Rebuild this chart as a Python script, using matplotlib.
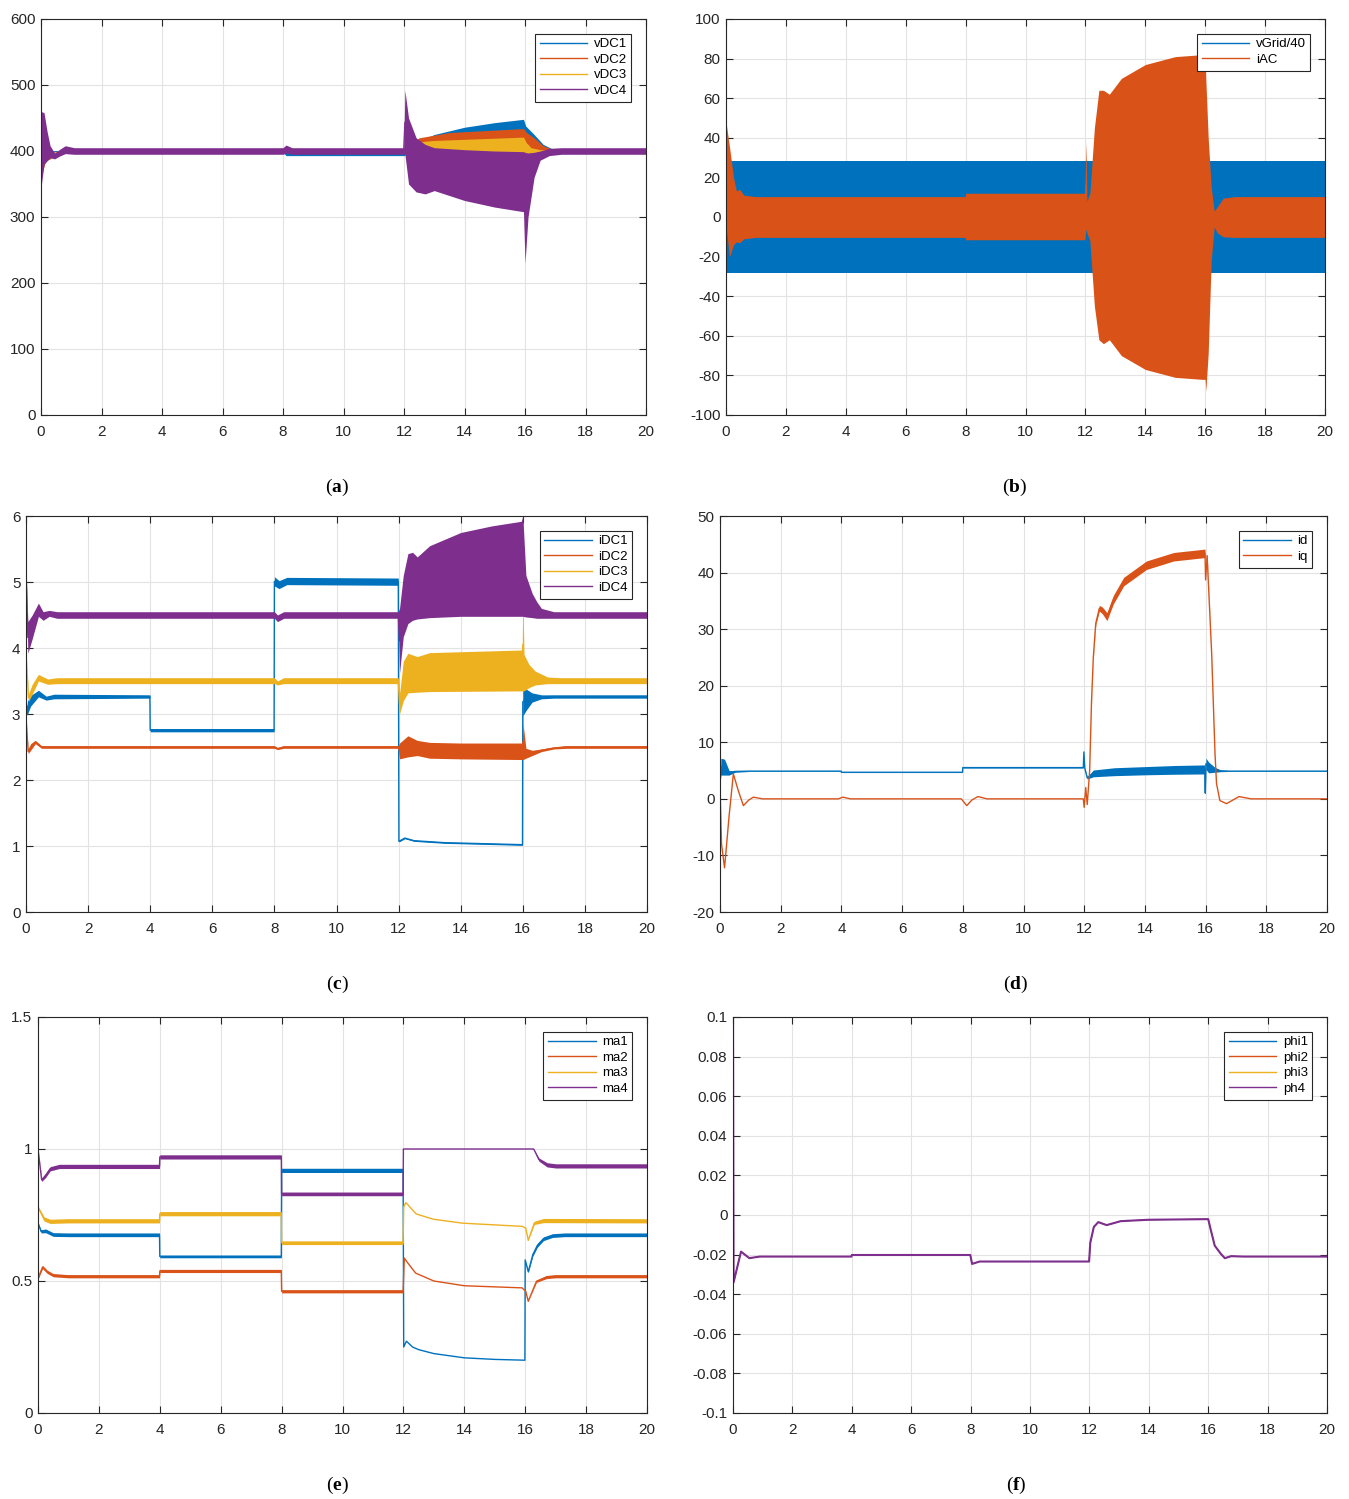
import numpy as np
import matplotlib.pyplot as plt
from matplotlib.ticker import FuncFormatter

plt.rcParams['font.family'] = ['Liberation Sans', 'DejaVu Sans']
plt.rcParams['axes.unicode_minus'] = False
plt.rcParams['mathtext.fontset'] = 'custom'
plt.rcParams['mathtext.rm'] = 'Liberation Serif'
plt.rcParams['mathtext.bf'] = 'Liberation Serif:bold'

# MATLAB default line colours
C1, C2, C3, C4 = '#0072BD', '#D95319', '#EDB120', '#7E2F8E'

# ---- (a) DC link voltages: time, lower / upper envelope of the ripple band
vdc1_t = [0, 0.3, 1.0, 8.0, 8.1, 12.0, 12.2, 12.5, 13.0, 14.0, 15.0, 15.95, 16.02, 16.3, 16.6, 17.0, 20]
vdc1_hi = [380, 400, 402, 402, 403, 403, 406, 415, 425, 436, 443, 448, 438, 425, 410, 401, 401]
vdc1_lo = [380, 395, 398, 398, 393, 393, 398, 398, 398, 398, 398, 398, 398, 398, 398, 398, 398]

vdc2_t = [0, 0.15, 0.3, 0.6, 1.0, 12.0, 12.2, 12.5, 13.5, 15.95, 16.05, 16.3, 16.6, 17.0, 20]
vdc2_hi = [360, 400, 392, 398, 401, 401, 410, 420, 428, 434, 428, 420, 408, 401, 401]
vdc2_lo = [360, 385, 388, 396, 398, 398, 398, 398, 398, 398, 398, 398, 398, 398, 398]

vdc3_t = [0, 0.15, 0.3, 0.6, 1.0, 12.0, 12.2, 12.5, 13.0, 15.95, 16.05, 16.1, 16.2, 16.5, 17.0, 20]
vdc3_hi = [360, 410, 398, 400, 401, 401, 408, 414, 416, 421, 412, 410, 405, 402, 401, 401]
vdc3_lo = [360, 395, 390, 396, 398, 398, 398, 398, 398, 398, 385, 380, 392, 396, 398, 398]

vdc4_t = [0, 0.1, 0.2, 0.3, 0.45, 0.6, 0.8, 1.1, 8.0, 8.1, 8.3, 11.99, 12.03, 12.15, 12.4, 12.7,
          13.0, 14.0, 15.0, 15.95, 16.0, 16.1, 16.3, 16.5, 16.8, 17.2, 20]
vdc4_hi = [460, 458, 430, 408, 397, 402, 408, 405, 405, 409, 405, 405, 492, 450, 420, 410,
           405, 402, 400, 399, 398, 397, 398, 400, 404, 405, 405]
vdc4_lo = [345, 380, 385, 390, 388, 392, 396, 395, 395, 397, 395, 395, 395, 350, 338, 335,
           340, 325, 315, 308, 230, 300, 360, 386, 393, 395, 395]

# ---- (b) grid voltage / 40 and AC current envelopes
vgrid_t = [0, 20]
vgrid_amp = [28.5, 28.5]

iac_t = [0, 0.12, 0.25, 0.35, 0.45, 0.6, 1.0, 7.99, 8.0, 11.98, 12.02, 12.05, 12.15, 12.3, 12.45,
         12.6, 12.8, 13.2, 14.0, 15.0, 15.9, 16.0, 16.02, 16.1, 16.2, 16.3, 16.4, 16.6, 17.0, 20]
iac_hi = [48, 35, 20, 13, 14, 11, 10.3, 10.3, 12, 12, 38, 8, 12, 45, 64,
          64, 62, 70, 77, 81, 82, 80, 70, 40, 15, 3, 5, 9.5, 10.3, 10.3]
iac_lo = [-5, -20, -14, -12.5, -13, -11, -10.3, -10.3, -11.5, -11.5, -6, -8, -12, -45, -62,
          -64, -62, -70, -77, -81, -82, -82, -88, -69, -22, -5, -8, -10, -10.3, -10.3]

# ---- (c) DC currents
idc1_t = [0, 0.05, 0.15, 0.4, 0.65, 0.9, 3.99, 4.0, 7.99, 8.0, 8.15, 8.4, 11.99, 12.01, 12.2, 12.5,
          13.5, 15.99, 16.0, 16.1, 16.3, 16.6, 17.0, 20]
idc1_hi = [3.02, 3.2, 3.28, 3.36, 3.27, 3.3, 3.29, 2.78, 2.78, 5.08, 5.02, 5.07, 5.06, 1.08, 1.13, 1.09,
           1.06, 1.03, 3.4, 3.38, 3.32, 3.29, 3.29, 3.29]
idc1_lo = [2.98, 3.0, 3.12, 3.26, 3.21, 3.23, 3.24, 2.73, 2.73, 4.94, 4.9, 4.96, 4.95, 1.06, 1.11, 1.07,
           1.04, 1.01, 2.97, 3.05, 3.18, 3.23, 3.24, 3.24]

idc2_t = [0, 0.07, 0.15, 0.3, 0.5, 0.8, 8.0, 8.1, 8.3, 11.99, 12.03, 12.3, 12.6, 13.0, 14.0, 15.98,
          16.01, 16.1, 16.3, 16.6, 17.0, 17.4, 20]
idc2_hi = [2.95, 2.46, 2.55, 2.6, 2.52, 2.52, 2.52, 2.49, 2.52, 2.52, 2.56, 2.67, 2.6, 2.57, 2.56, 2.56,
           2.85, 2.48, 2.45, 2.47, 2.5, 2.52, 2.52]
idc2_lo = [2.95, 2.4, 2.45, 2.55, 2.48, 2.48, 2.48, 2.46, 2.48, 2.48, 2.32, 2.35, 2.37, 2.33, 2.32, 2.31,
           2.31, 2.33, 2.37, 2.43, 2.47, 2.48, 2.48]

idc3_t = [0, 0.08, 0.2, 0.4, 0.7, 1.0, 8.0, 8.1, 8.3, 11.99, 12.03, 12.15, 12.3, 12.6, 13.0, 15.98,
          16.0, 16.04, 16.2, 16.4, 16.8, 17.2, 20]
idc3_hi = [3.92, 3.3, 3.45, 3.6, 3.53, 3.55, 3.55, 3.5, 3.55, 3.55, 3.3, 3.8, 3.92, 3.87, 3.93, 3.97,
           4.75, 3.9, 3.75, 3.65, 3.56, 3.55, 3.55]
idc3_lo = [3.92, 3.19, 3.3, 3.5, 3.45, 3.46, 3.46, 3.44, 3.46, 3.46, 3.0, 3.2, 3.32, 3.33, 3.34, 3.35,
           3.35, 3.35, 3.4, 3.44, 3.46, 3.46, 3.46]

idc4_t = [0, 0.06, 0.2, 0.4, 0.55, 0.75, 1.0, 8.0, 8.1, 8.3, 11.99, 12.03, 12.15, 12.3, 12.45, 12.6,
          13.0, 14.0, 15.0, 15.95, 16.0, 16.1, 16.3, 16.45, 16.6, 17.0, 20]
idc4_hi = [5.2, 4.4, 4.5, 4.68, 4.55, 4.57, 4.55, 4.55, 4.5, 4.55, 4.55, 4.6, 5.1, 5.43, 5.45, 5.38,
           5.55, 5.75, 5.85, 5.92, 6.0, 5.1, 4.83, 4.7, 4.6, 4.55, 4.55]
idc4_lo = [5.2, 3.92, 4.14, 4.48, 4.42, 4.48, 4.45, 4.45, 4.4, 4.45, 4.45, 3.62, 4.17, 4.37, 4.42, 4.44,
           4.46, 4.48, 4.48, 4.48, 4.48, 4.47, 4.46, 4.45, 4.45, 4.45, 4.45]

# ---- (d) dq currents
id_t = [0, 0.03, 0.15, 0.3, 0.5, 1.0, 3.99, 4.0, 7.99, 8.0, 11.97, 11.99, 12.02, 12.1, 12.3, 13.0,
        14.0, 15.0, 15.97, 15.99, 16.01, 16.1, 16.3, 16.5, 16.8, 20]
id_hi = [2.5, 7.2, 7.0, 5.0, 5.0, 4.95, 4.95, 4.75, 4.75, 5.6, 5.6, 8.3, 5.5, 3.9, 5.1, 5.5,
         5.7, 5.9, 6.0, 1.0, 7.2, 6.5, 5.6, 5.1, 4.95, 4.95]
id_lo = [2.5, 4.2, 4.2, 4.2, 4.7, 4.85, 4.85, 4.65, 4.65, 5.45, 5.45, 8.3, 5.3, 3.5, 3.9, 4.1,
         4.25, 4.35, 4.4, 1.0, 5.2, 4.6, 4.7, 4.8, 4.85, 4.85]

iq_t = [0, 0.05, 0.15, 0.3, 0.44, 0.6, 0.77, 0.95, 1.1, 1.4, 3.9, 4.05, 4.3, 7.95, 8.13, 8.3, 8.5, 8.8,
        11.97, 12.0, 12.05, 12.1, 12.18, 12.24, 12.3, 12.38, 12.5, 12.6, 12.75, 12.96, 13.3, 14.05,
        14.95, 15.98, 16.0, 16.05, 16.2, 16.31, 16.36, 16.47, 16.69, 17.1, 17.5, 20]
iq_c = [2.5, -8, -12.2, -3, 4.4, 1.5, -1.2, -0.2, 0.3, 0, 0, 0.3, 0, 0, -1.2, -0.2, 0.4, 0,
        0, -1.5, 2, -1, 5, 17, 25, 31, 33.7, 33.3, 32.2, 35.2, 38.4, 41.3,
        42.8, 43.4, 38.7, 43, 25.7, 8, 2.7, -0.3, -0.85, 0.4, 0, 0]
iq_hw = [0] * 23 + [0.1, 0.2, 0.3, 0.5, 0.6, 0.7, 0.75, 0.75, 0.75, 0.75, 0.75, 0, 0.3] + [0] * 8

# ---- (e) modulation indices: centre and half width of the ripple
ma1_t = [0, 0.1, 0.25, 0.5, 1.0, 3.99, 4.0, 7.99, 8.0, 11.99, 12.01, 12.1, 12.3, 12.5, 13.0, 14.0,
         15.0, 15.99, 16.0, 16.1, 16.25, 16.4, 16.6, 16.9, 17.3, 20]
ma1_c = [0.72, 0.688, 0.69, 0.676, 0.675, 0.675, 0.593, 0.593, 0.919, 0.919, 0.25, 0.272, 0.25, 0.24, 0.225, 0.209,
         0.203, 0.2, 0.58, 0.535, 0.6, 0.635, 0.66, 0.672, 0.675, 0.675]
ma1_hw = [0, 0.006, 0.007, 0.007, 0.007, 0.007, 0.005, 0.005, 0.008, 0.008, 0, 0, 0, 0, 0, 0,
          0, 0, 0, 0.004, 0.006, 0.007, 0.007, 0.007, 0.007, 0.007]

ma2_t = [0, 0.15, 0.3, 0.5, 1.0, 3.99, 4.0, 7.99, 8.0, 11.99, 12.03, 12.1, 12.4, 13.0, 14.0, 15.9,
         16.02, 16.1, 16.37, 16.7, 17.0, 20]
ma2_c = [0.51, 0.553, 0.535, 0.522, 0.518, 0.518, 0.538, 0.538, 0.461, 0.461, 0.587, 0.575, 0.53, 0.5, 0.482, 0.474,
         0.46, 0.423, 0.499, 0.515, 0.518, 0.518]
ma2_hw = [0.004, 0.006, 0.006, 0.006, 0.006, 0.006, 0.006, 0.006, 0.006, 0.006, 0, 0, 0, 0, 0, 0,
          0, 0, 0.004, 0.006, 0.006, 0.006]

ma3_t = [0, 0.2, 0.4, 1.0, 3.99, 4.0, 7.99, 8.0, 11.99, 12.01, 12.08, 12.42, 12.98, 13.95, 15.9,
         16.02, 16.1, 16.3, 16.6, 20]
ma3_c = [0.78, 0.735, 0.726, 0.728, 0.728, 0.755, 0.755, 0.645, 0.645, 0.78, 0.797, 0.754, 0.734, 0.719, 0.707,
         0.70, 0.654, 0.72, 0.729, 0.728]
ma3_hw = [0.004, 0.008, 0.008, 0.008, 0.008, 0.008, 0.008, 0.007, 0.007, 0, 0, 0, 0, 0, 0,
          0, 0, 0.006, 0.008, 0.008]

ma4_t = [0, 0.12, 0.25, 0.4, 0.7, 3.99, 4.0, 7.99, 8.0, 11.99, 12.0, 16.28, 16.45, 16.72, 17.0, 20]
ma4_c = [1.0, 0.883, 0.9, 0.925, 0.934, 0.934, 0.97, 0.97, 0.83, 0.83, 1.0, 1.0, 0.96, 0.94, 0.936, 0.936]
ma4_hw = [0, 0.006, 0.008, 0.008, 0.008, 0.008, 0.008, 0.008, 0.007, 0.007, 0, 0, 0.006, 0.008, 0.008, 0.008]

# ---- (f) phase shifts (all four coincide)
phi_t = [0, 0.02, 0.27, 0.55, 0.9, 3.99, 4.0, 7.99, 8.05, 8.3, 11.99, 12.03, 12.15, 12.3, 12.58,
         13.06, 14.0, 16.0, 16.08, 16.22, 16.43, 16.56, 16.77, 17.2, 20]
phi_c = [0.1, -0.034, -0.0185, -0.0218, -0.021, -0.021, -0.0202, -0.0202, -0.0247, -0.0235, -0.0235,
         -0.014, -0.006, -0.0036, -0.0051, -0.0031, -0.0024, -0.0021, -0.0071, -0.0155, -0.0197,
         -0.0218, -0.0208, -0.021, -0.021]

W, H = 1349, 1499
fig = plt.figure(figsize=(W / 100, H / 100), dpi=100)


def make_axes(l, t, r, b, ylim, yticks):
    ax = fig.add_axes([l / W, 1 - b / H, (r - l) / W, (b - t) / H])
    ax.set_xlim(0, 20)
    ax.set_xticks(range(0, 21, 2))
    ax.set_ylim(*ylim)
    ax.set_yticks(yticks)
    ax.yaxis.set_major_formatter(FuncFormatter(lambda v, p: '%g' % (round(v, 6) + 0.0)))
    ax.grid(True, color='#e3e3e3', lw=0.8)
    ax.set_axisbelow(True)
    ax.tick_params(direction='in', top=True, right=True, length=5, width=0.8,
                   labelsize=11, colors='#262626')
    ax.tick_params(axis='x', pad=7)
    ax.tick_params(axis='y', pad=4)
    for s in ax.spines.values():
        s.set_color('#262626')
        s.set_linewidth(0.8)
    return ax


def band(ax, t, lo, hi, color, label):
    # fill and centre line share one zorder, so later series cover earlier ones
    lo, hi = np.asarray(lo, float), np.asarray(hi, float)
    ax.fill_between(t, lo, hi, color=color, lw=0, zorder=2)
    ax.plot(t, (lo + hi) / 2, color=color, lw=1, label=label, zorder=2)


def legend(ax):
    leg = ax.legend(loc='upper right', fontsize=9.5, handlelength=3.6, labelspacing=0.25,
                    borderpad=0.35, borderaxespad=1.1, handletextpad=0.5,
                    fancybox=False, framealpha=1, edgecolor='#262626')
    leg.get_frame().set_linewidth(0.8)
    leg.set_zorder(5)
    for line in leg.get_lines():
        line.set_linewidth(1)


# (a)
ax = make_axes(41, 19, 646, 415, (0, 600), range(0, 601, 100))
band(ax, vdc1_t, vdc1_lo, vdc1_hi, C1, 'vDC1')
band(ax, vdc2_t, vdc2_lo, vdc2_hi, C2, 'vDC2')
band(ax, vdc3_t, vdc3_lo, vdc3_hi, C3, 'vDC3')
band(ax, vdc4_t, vdc4_lo, vdc4_hi, C4, 'vDC4')
legend(ax)

# (b)
ax = make_axes(726, 19, 1325, 415, (-100, 100), range(-100, 101, 20))
amp = np.asarray(vgrid_amp)
band(ax, vgrid_t, -amp, amp, C1, 'vGrid/40')
band(ax, iac_t, iac_lo, iac_hi, C2, 'iAC')
legend(ax)

# (c)
ax = make_axes(26, 516, 647, 912, (0, 6), range(0, 7))
band(ax, idc1_t, idc1_lo, idc1_hi, C1, 'iDC1')
band(ax, idc2_t, idc2_lo, idc2_hi, C2, 'iDC2')
band(ax, idc3_t, idc3_lo, idc3_hi, C3, 'iDC3')
band(ax, idc4_t, idc4_lo, idc4_hi, C4, 'iDC4')
legend(ax)

# (d)
ax = make_axes(720, 516, 1327, 912, (-20, 50), range(-20, 51, 10))
band(ax, id_t, id_lo, id_hi, C1, 'id')
c, hw = np.asarray(iq_c), np.asarray(iq_hw)
band(ax, iq_t, c - hw, c + hw, C2, 'iq')
legend(ax)

# (e)
ax = make_axes(38, 1017, 647, 1413, (0, 1.5), [0, 0.5, 1, 1.5])
for t, c, hw, col, lab in [(ma1_t, ma1_c, ma1_hw, C1, 'ma1'), (ma2_t, ma2_c, ma2_hw, C2, 'ma2'),
                           (ma3_t, ma3_c, ma3_hw, C3, 'ma3'), (ma4_t, ma4_c, ma4_hw, C4, 'ma4')]:
    c, hw = np.asarray(c), np.asarray(hw)
    band(ax, t, c - hw, c + hw, col, lab)
legend(ax)

# (f)
ax = make_axes(733, 1017, 1327, 1413, (-0.1, 0.1), np.linspace(-0.1, 0.1, 11))
for col, lab, w in [(C1, 'phi1', 0.6), (C2, 'phi2', 0.6), (C3, 'phi3', 0.6), (C4, 'ph4', 1.5)]:
    ax.plot(phi_t, phi_c, color=col, lw=w, label=lab)
legend(ax)

# panel captions
for x, y, s in [(337, 487, 'a'), (1015, 487, 'b'), (337, 984, 'c'),
                (1016, 984, 'd'), (337, 1485, 'e'), (1016, 1485, 'f')]:
    fig.text(x / W, 1 - y / H, '(' + r'$\mathbf{%s}$' % s + ')', ha='center', va='center',
             fontsize=14, family='Liberation Serif')

fig.savefig('out.png', dpi=100)
